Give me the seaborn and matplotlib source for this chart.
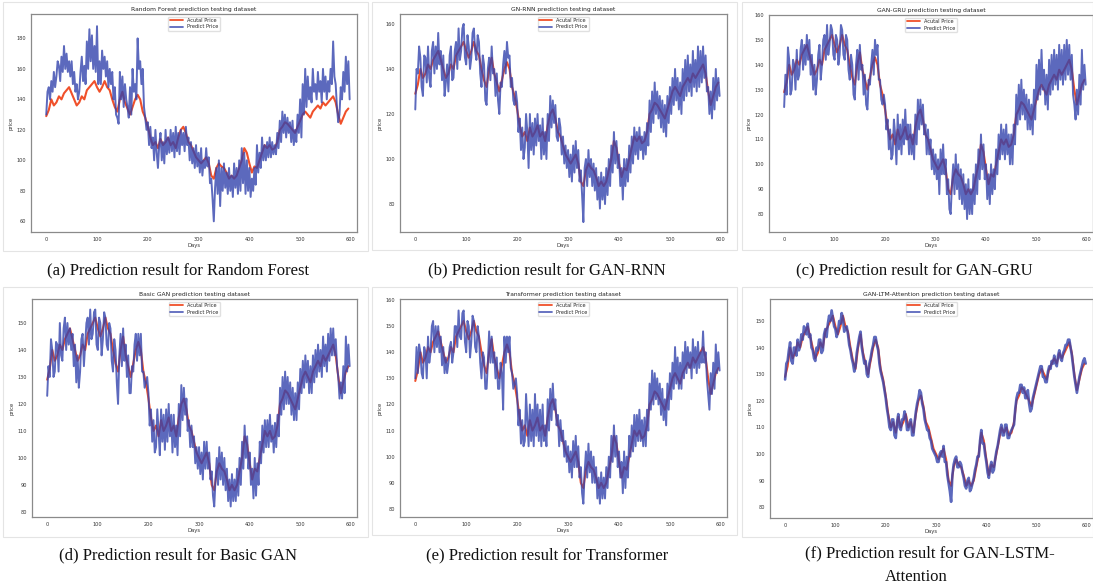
import matplotlib
matplotlib.use("Agg")
import numpy as np
import pandas as pd
import seaborn as sns
import matplotlib.pyplot as plt
from matplotlib.patches import Rectangle

# ---------------- data ----------------
# actual price every 5 days, predicted prices every 2.5 days
actual_step = 5.0
pred_step = 2.5

actual_price = [
    129, 133, 140, 136, 138, 142, 140, 144, 146, 148,
    144, 140, 136, 138, 142, 140, 146, 148, 150, 152,
    148, 145, 148, 152, 148, 146, 140, 135, 132, 140,
    145, 138, 134, 130, 135, 140, 143, 140, 132, 128,
    122, 115, 110, 112, 108, 114, 110, 112, 115, 110,
    112, 108, 115, 120, 122, 118, 112, 110, 106, 102,
    100, 98, 100, 102, 98, 90, 88, 95, 98, 96,
    95, 92, 88, 90, 88, 90, 95, 100, 108, 105,
    98, 92, 96, 95, 100, 105, 110, 108, 110, 107,
    108, 112, 120, 122, 125, 124, 122, 120, 118, 122,
    126, 130, 132, 130, 128, 132, 134, 136, 134, 138,
    136, 138, 140, 142, 138, 130, 124, 128, 132, 134,
]

pred_random_forest = [
    130, 145, 148, 140, 152, 145, 158, 148, 155, 165, 162, 152, 168, 158, 175, 160, 170, 158, 165, 155,
    165, 150, 158, 145, 150, 140, 145, 158, 168, 152, 162, 150, 178, 160, 186, 165, 182, 160, 175, 158,
    188, 150, 165, 150, 172, 160, 168, 155, 165, 148, 160, 150, 158, 140, 148, 130, 128, 124, 158, 140,
    155, 135, 150, 140, 135, 128, 148, 130, 160, 145, 150, 140, 180, 160, 165, 150, 160, 135, 128, 120,
    125, 110, 122, 108, 115, 100, 120, 105, 95, 110, 118, 100, 112, 98, 120, 104, 115, 105, 120, 106,
    118, 102, 122, 106, 118, 104, 120, 110, 118, 106, 122, 110, 115, 100, 112, 98, 108, 95, 110, 96,
    105, 92, 108, 90, 100, 95, 108, 96, 102, 85, 88, 75, 60, 82, 95, 78, 100, 70, 95, 80,
    98, 82, 92, 78, 95, 80, 90, 76, 98, 82, 95, 78, 100, 80, 108, 85, 105, 78, 100, 80,
    95, 76, 88, 80, 95, 84, 110, 92, 105, 95, 115, 100, 110, 100, 112, 102, 115, 102, 112, 104,
    110, 104, 118, 108, 126, 112, 132, 118, 130, 115, 128, 118, 125, 112, 126, 110, 120, 112, 130, 118,
    140, 115, 150, 130, 160, 135, 155, 140, 148, 138, 160, 145, 150, 140, 158, 145, 152, 138, 160, 145,
    155, 140, 152, 145, 160, 150, 178, 155, 150, 135, 125, 130, 148, 140, 158, 145, 168, 150, 165, 140,
]

pred_gan_rnn = [
    122, 140, 138, 150, 145, 132, 128, 146, 145, 134, 150, 136, 132, 148, 152, 138, 150, 140, 156, 142,
    148, 135, 146, 128, 134, 142, 130, 146, 150, 135, 136, 148, 152, 140, 158, 144, 148, 158, 160, 145,
    142, 155, 150, 140, 145, 156, 158, 148, 144, 155, 152, 138, 132, 146, 142, 126, 124, 140, 145, 135,
    150, 138, 140, 128, 138, 126, 120, 134, 132, 142, 148, 138, 152, 145, 146, 132, 136, 126, 124, 130,
    125, 112, 118, 104, 114, 100, 105, 120, 112, 96, 120, 104, 116, 102, 118, 106, 120, 108, 115, 100,
    118, 102, 112, 100, 120, 108, 128, 114, 126, 116, 124, 110, 108, 118, 114, 102, 110, 98, 106, 96,
    104, 92, 102, 90, 106, 94, 108, 96, 104, 90, 95, 84, 72, 96, 100, 88, 104, 92, 100, 88,
    98, 86, 96, 82, 92, 78, 94, 82, 92, 80, 96, 84, 100, 88, 106, 94, 112, 98, 108, 96,
    102, 88, 96, 82, 100, 88, 100, 90, 106, 94, 110, 98, 114, 102, 112, 100, 114, 104, 110, 100,
    112, 102, 116, 106, 126, 112, 130, 116, 134, 120, 130, 118, 128, 114, 126, 112, 124, 110, 128, 116,
    132, 120, 136, 124, 140, 126, 136, 122, 134, 120, 140, 126, 144, 128, 146, 130, 142, 128, 148, 132,
    144, 130, 150, 132, 148, 134, 150, 136, 146, 130, 132, 120, 130, 118, 136, 122, 140, 126, 136, 128,
]

pred_gan_gru = [
    123, 136, 128, 147, 142, 128, 130, 142, 140, 130, 146, 134, 136, 146, 150, 138, 148, 140, 152, 142,
    150, 136, 144, 130, 140, 128, 134, 144, 148, 134, 140, 150, 152, 142, 156, 144, 148, 156, 154, 144,
    142, 152, 150, 140, 144, 156, 154, 144, 142, 152, 150, 138, 134, 144, 140, 128, 126, 140, 146, 134,
    148, 138, 140, 128, 136, 124, 122, 134, 132, 140, 146, 136, 150, 144, 148, 134, 134, 126, 124, 128,
    124, 114, 118, 106, 114, 102, 104, 118, 112, 100, 120, 106, 116, 104, 118, 108, 122, 110, 116, 104,
    116, 104, 112, 102, 120, 108, 126, 114, 126, 116, 124, 112, 116, 104, 114, 104, 110, 98, 106, 96,
    104, 94, 102, 88, 106, 96, 108, 96, 102, 88, 94, 82, 80, 92, 100, 88, 104, 90, 100, 86,
    98, 84, 96, 82, 92, 78, 94, 80, 90, 80, 96, 84, 100, 88, 106, 94, 112, 98, 108, 94,
    100, 86, 96, 84, 100, 88, 98, 90, 106, 96, 112, 102, 116, 104, 114, 102, 116, 104, 112, 100,
    112, 100, 116, 108, 128, 116, 132, 118, 134, 120, 130, 118, 128, 114, 126, 114, 124, 112, 130, 118,
    140, 126, 142, 128, 146, 130, 138, 124, 136, 122, 142, 128, 144, 130, 146, 132, 144, 130, 148, 134,
    146, 132, 148, 134, 150, 136, 148, 134, 144, 128, 124, 118, 130, 120, 136, 124, 146, 130, 140, 132,
]

pred_basic_gan = [
    123, 134, 130, 144, 140, 130, 132, 143, 142, 132, 150, 138, 136, 148, 152, 140, 150, 142, 148, 140,
    146, 134, 142, 128, 138, 126, 132, 144, 146, 134, 142, 150, 152, 142, 155, 144, 146, 154, 155, 142,
    140, 152, 150, 138, 144, 154, 152, 142, 140, 150, 148, 136, 132, 144, 140, 128, 120, 138, 146, 134,
    148, 136, 142, 130, 138, 124, 124, 134, 132, 142, 146, 136, 146, 138, 146, 132, 132, 126, 128, 130,
    124, 112, 118, 106, 114, 102, 104, 118, 110, 101, 118, 106, 116, 103, 118, 106, 120, 108, 116, 102,
    116, 104, 112, 101, 120, 108, 127, 114, 126, 116, 122, 110, 114, 104, 112, 104, 108, 98, 104, 96,
    104, 94, 102, 92, 106, 96, 106, 96, 102, 92, 95, 86, 82, 92, 100, 90, 104, 92, 102, 90,
    100, 88, 96, 84, 92, 82, 94, 84, 92, 84, 96, 86, 100, 90, 106, 96, 112, 100, 108, 96,
    102, 90, 96, 85, 100, 86, 98, 90, 106, 98, 112, 102, 114, 104, 114, 104, 116, 106, 112, 102,
    113, 104, 116, 108, 126, 116, 130, 118, 132, 120, 130, 120, 128, 116, 126, 114, 124, 114, 128, 118,
    133, 124, 136, 126, 138, 128, 136, 124, 134, 124, 138, 128, 140, 130, 142, 132, 140, 130, 145, 134,
    142, 132, 146, 136, 148, 138, 148, 138, 144, 134, 130, 122, 128, 122, 134, 124, 145, 132, 142, 134,
]

pred_transformer = [
    130, 142, 132, 143, 140, 132, 130, 142, 140, 130, 146, 136, 140, 150, 152, 140, 150, 142, 150, 140,
    146, 135, 142, 132, 138, 132, 136, 142, 144, 136, 140, 150, 150, 142, 156, 146, 145, 155, 156, 144,
    140, 152, 150, 138, 144, 154, 152, 142, 140, 150, 146, 136, 130, 140, 138, 126, 126, 136, 148, 136,
    146, 136, 140, 130, 138, 126, 126, 136, 132, 118, 146, 136, 146, 140, 146, 134, 132, 126, 128, 130,
    124, 112, 118, 105, 114, 104, 106, 124, 114, 104, 120, 106, 118, 104, 124, 108, 120, 106, 118, 104,
    120, 106, 112, 104, 122, 110, 126, 114, 128, 118, 122, 112, 116, 104, 114, 106, 110, 100, 106, 98,
    104, 94, 102, 92, 106, 96, 108, 96, 104, 92, 96, 86, 82, 94, 102, 92, 105, 94, 102, 90,
    100, 90, 96, 84, 92, 82, 94, 84, 92, 84, 96, 88, 100, 92, 108, 98, 112, 100, 108, 96,
    102, 92, 98, 86, 102, 88, 100, 92, 108, 100, 112, 102, 116, 104, 116, 106, 118, 106, 114, 104,
    115, 104, 118, 110, 128, 118, 133, 120, 132, 122, 130, 120, 128, 116, 126, 114, 122, 112, 128, 118,
    132, 122, 136, 126, 142, 128, 138, 126, 136, 126, 140, 130, 144, 132, 142, 134, 140, 130, 145, 134,
    142, 132, 144, 134, 140, 136, 148, 136, 140, 130, 124, 118, 132, 124, 136, 126, 143, 132, 140, 133,
]

pred_gan_lstm_att = [
    128, 134, 135, 139, 142, 135, 134, 140, 140, 137, 143, 139, 141, 145, 143, 148, 147, 145, 149, 144,
    145, 140, 139, 136, 135, 140, 139, 143, 143, 138, 139, 145, 147, 144, 149, 152, 150, 154, 151, 148,
    147, 144, 146, 150, 149, 153, 151, 146, 147, 148, 145, 141, 139, 136, 134, 131, 133, 138, 141, 144,
    146, 140, 137, 134, 135, 130, 129, 134, 136, 139, 141, 144, 144, 141, 139, 134, 131, 129, 127, 124,
    121, 117, 114, 110, 109, 113, 113, 107, 106, 112, 115, 110, 109, 113, 113, 116, 114, 109, 109, 112,
    113, 107, 107, 112, 116, 119, 121, 124, 123, 119, 117, 113, 111, 109, 109, 106, 105, 102, 101, 100,
    99, 97, 97, 100, 101, 99, 103, 97, 97, 92, 89, 86, 82, 92, 96, 98, 99, 95, 95, 97,
    96, 93, 91, 88, 87, 90, 91, 86, 87, 89, 91, 94, 96, 99, 99, 105, 109, 104, 104, 100,
    97, 93, 91, 95, 97, 93, 94, 98, 101, 103, 106, 109, 111, 107, 107, 111, 111, 106, 106, 108,
    109, 110, 111, 117, 121, 123, 123, 126, 126, 123, 125, 121, 121, 124, 119, 116, 117, 121, 123, 125,
    127, 129, 131, 133, 133, 129, 129, 127, 127, 131, 133, 132, 135, 134, 137, 134, 133, 137, 139, 136,
    135, 138, 139, 141, 141, 143, 143, 140, 137, 133, 129, 126, 123, 126, 129, 131, 133, 135, 136, 134,
]

titles = [
    "Random Forest prediction testing dataset",
    "GN-RNN prediction testing dataset",
    "GAN-GRU prediction testing dataset",
    "Basic GAN prediction testing dataset",
    "Transformer prediction testing dataset",
    "GAN-LTM-Attention prediction testing dataset",
]
captions = [
    "(a) Prediction result for Random Forest",
    "(b) Prediction result for GAN-RNN",
    "(c) Prediction result for GAN-GRU",
    "(d) Prediction result for Basic GAN",
    "(e) Prediction result for Transformer",
    "(f) Prediction result for GAN-LSTM-",
]
caption_extra = "Attention"
legend_labels = ["Acutal Price", "Predict Price"]
x_ticks = [0, 100, 200, 300, 400, 500, 600]

preds = [pred_random_forest, pred_gan_rnn, pred_gan_gru,
         pred_basic_gan, pred_transformer, pred_gan_lstm_att]

# ---------------- layout / style ----------------
sns.set_theme(style="white")
plt.rcParams['font.family'] = ['DejaVu Sans']

W, H = 1093, 585
fig = plt.figure(figsize=(W / 100, H / 100), dpi=100)

boxes = [(31, 14, 357, 232), (400, 14, 727, 232), (769, 15, 1093, 232),
         (32, 299, 357, 517), (400, 299, 727, 517), (770, 299, 1093, 518)]
ylims = [(53, 196), (67.6, 164.4), (72.8, 160), (78.1, 158.9), (76.9, 160.4), (75.9, 158.3)]
yticks = [list(range(60, 181, 20)), list(range(80, 161, 20)), list(range(80, 161, 10)),
          list(range(80, 151, 10)), list(range(80, 161, 10)), list(range(80, 151, 10))]
cap_pos = [(178, 270), (547, 270), (914, 270), (178, 555), (547, 555), (930, 553)]
frames = [(3, 2, 368, 251), (372, 2, 737, 250), (742, 2, 1093, 250),
          (3, 287, 368, 537), (372, 287, 737, 535), (742, 287, 1093, 537)]
pred_widths = [1.4, 1.4, 1.4, 1.4, 1.4, 1.9]

RED = "#f0502a"
BLUE = "#3343ad"

for fx0, fy0, fx1, fy1 in frames:
    fig.patches.append(Rectangle((fx0 / W, 1 - fy1 / H), (fx1 - fx0) / W, (fy1 - fy0) / H,
                                 transform=fig.transFigure, fill=False,
                                 edgecolor="#e4e4e4", linewidth=0.8, zorder=0))

for i in range(6):
    x0, y0, x1, y1 = boxes[i]
    ax = fig.add_axes([x0 / W, 1 - y1 / H, (x1 - x0) / W, (y1 - y0) / H])
    df_a = pd.DataFrame({"Days": [k * actual_step for k in range(len(actual_price))],
                         "price": actual_price})
    df_p = pd.DataFrame({"Days": [k * pred_step for k in range(len(preds[i]))],
                         "price": preds[i]})
    sns.lineplot(data=df_a, x="Days", y="price", ax=ax, color=RED, linewidth=1.5,
                 label=legend_labels[0])
    sns.lineplot(data=df_p, x="Days", y="price", ax=ax, color=BLUE,
                 linewidth=pred_widths[i], alpha=0.8, label=legend_labels[1])
    ax.set_xlim(-30, 612)
    ax.set_ylim(*ylims[i])
    ax.set_xticks(x_ticks)
    ax.set_yticks(yticks[i])
    ax.tick_params(labelsize=3.6, length=2, width=0.5, color="#666666",
                   labelcolor="#333333", pad=1.5)
    for s in ax.spines.values():
        s.set_color("#8a8a8a")
        s.set_linewidth(0.9)
    ax.set_title(titles[i], fontsize=4.3, pad=2.5, color="#222222")
    ax.set_xlabel("Days", fontsize=3.8, labelpad=1, color="#333333")
    ax.set_ylabel("price", fontsize=3.8, labelpad=2, color="#333333")
    leg = ax.legend(loc="upper center", fontsize=3.6, frameon=True, framealpha=0.9,
                    edgecolor="#dddddd", handlelength=2.6, borderpad=0.3,
                    labelspacing=0.3, fancybox=True)
    for line in leg.get_lines():
        line.set_linewidth(1.3)

for i in range(6):
    cx, cy = cap_pos[i]
    fig.text(cx / W, 1 - cy / H, captions[i], ha="center", va="center",
             fontsize=12, family="Liberation Serif", color="#111111")
fig.text(916 / W, 1 - 577 / H, caption_extra, ha="center", va="center",
         fontsize=12, family="Liberation Serif", color="#111111")

fig.savefig("out.png", dpi=100, facecolor="white")
